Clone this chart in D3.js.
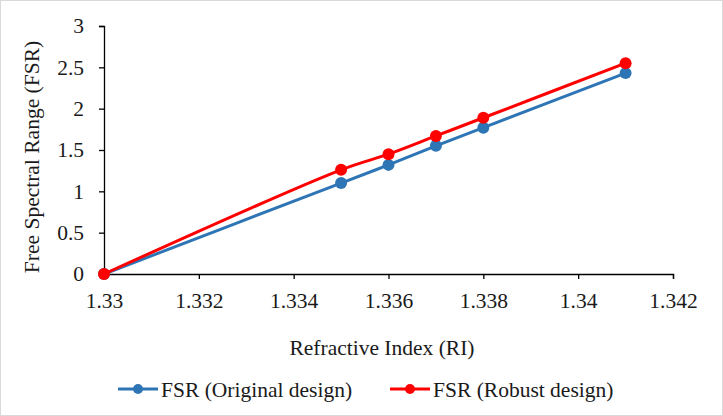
<!DOCTYPE html>
<html>
<head>
<meta charset="utf-8">
<script src="https://cdn.jsdelivr.net/npm/d3@7"></script>
<style>
  body { margin: 0; background: #fff; }
  svg { display: block; font-family: "Liberation Serif", "Times New Roman", serif; }
</style>
</head>
<body>
<svg id="chart"></svg>
<script>
const refractiveIndex = [1.33, 1.335, 1.336, 1.337, 1.338, 1.341];
const fsrOriginal = [0, 1.10, 1.32, 1.55, 1.77, 2.43];
const fsrRobust = [0, 1.26, 1.45, 1.67, 1.89, 2.55];
const seriesNames = ["FSR (Original design)", "FSR (Robust design)"];
const seriesColors = ["#2e75b6", "#ff0000"];
const xTicks = [1.33, 1.332, 1.334, 1.336, 1.338, 1.34, 1.342];
const yTicks = [0, 0.5, 1, 1.5, 2, 2.5, 3];

const width = 723, height = 416;
const fontSize = 21.5;
const fontFamily = '"Liberation Serif", "Times New Roman", serif';
const textColor = "#1a1a1a";
const svg = d3.select("#chart").attr("width", width).attr("height", height);

// frame around the picture
svg.append("rect").attr("x", 0.5).attr("y", 0.5)
    .attr("width", width - 1).attr("height", height - 1)
    .attr("fill", "none").attr("stroke", "#d9d9d9");

const x = d3.scaleLinear().domain([1.33, 1.342]).range([104, 673]);
const y = d3.scaleLinear().domain([0, 3]).range([274, 26]);

const gx = svg.append("g").attr("transform", `translate(0,${y(0)})`)
    .call(d3.axisBottom(x).tickValues(xTicks).tickFormat(d => String(+d.toFixed(3)))
        .tickSizeOuter(0).tickSize(5).tickPadding(14));
const gy = svg.append("g").attr("transform", `translate(${x(1.33)},0)`)
    .call(d3.axisLeft(y).tickValues(yTicks).tickFormat(d => String(d))
        .tickSizeOuter(0).tickSize(5).tickPadding(15));
[gx, gy].forEach(g => {
    g.attr("font-family", fontFamily).attr("font-size", fontSize);
    g.selectAll("path, line").attr("stroke", "#000").attr("stroke-width", 1.3);
    g.selectAll("text").attr("fill", textColor);
});

svg.append("text").attr("x", 382).attr("y", 355)
    .attr("text-anchor", "middle").attr("font-size", fontSize).attr("fill", textColor)
    .text("Refractive Index (RI)");
svg.append("text").attr("transform", "translate(39,157) rotate(-90)")
    .attr("text-anchor", "middle").attr("font-size", fontSize).attr("fill", textColor)
    .text("Free Spectral Range (FSR)");

const line = d3.line().x(d => x(d[0])).y(d => y(d[1])).curve(d3.curveCatmullRom.alpha(0.5));
const allSeries = [fsrOriginal, fsrRobust];
allSeries.forEach((vals, i) => {
    const pts = refractiveIndex.map((r, j) => [r, vals[j]]);
    svg.append("path").datum(pts).attr("d", line)
        .attr("fill", "none").attr("stroke", seriesColors[i]).attr("stroke-width", 3);
    svg.selectAll(null).data(pts).enter().append("circle")
        .attr("cx", d => x(d[0])).attr("cy", d => y(d[1])).attr("r", 6)
        .attr("fill", seriesColors[i]);
});

// legend
const legendX = [118, 390];
seriesNames.forEach((name, i) => {
    const g = svg.append("g").attr("transform", `translate(${legendX[i]},389)`);
    g.append("line").attr("x1", 0).attr("x2", 40).attr("y1", 0).attr("y2", 0)
        .attr("stroke", seriesColors[i]).attr("stroke-width", 3);
    g.append("circle").attr("cx", 20).attr("cy", 0).attr("r", 5).attr("fill", seriesColors[i]);
    g.append("text").attr("x", 43).attr("y", 8).attr("font-size", fontSize).attr("fill", textColor).text(name);
});
</script>
</body>
</html>
